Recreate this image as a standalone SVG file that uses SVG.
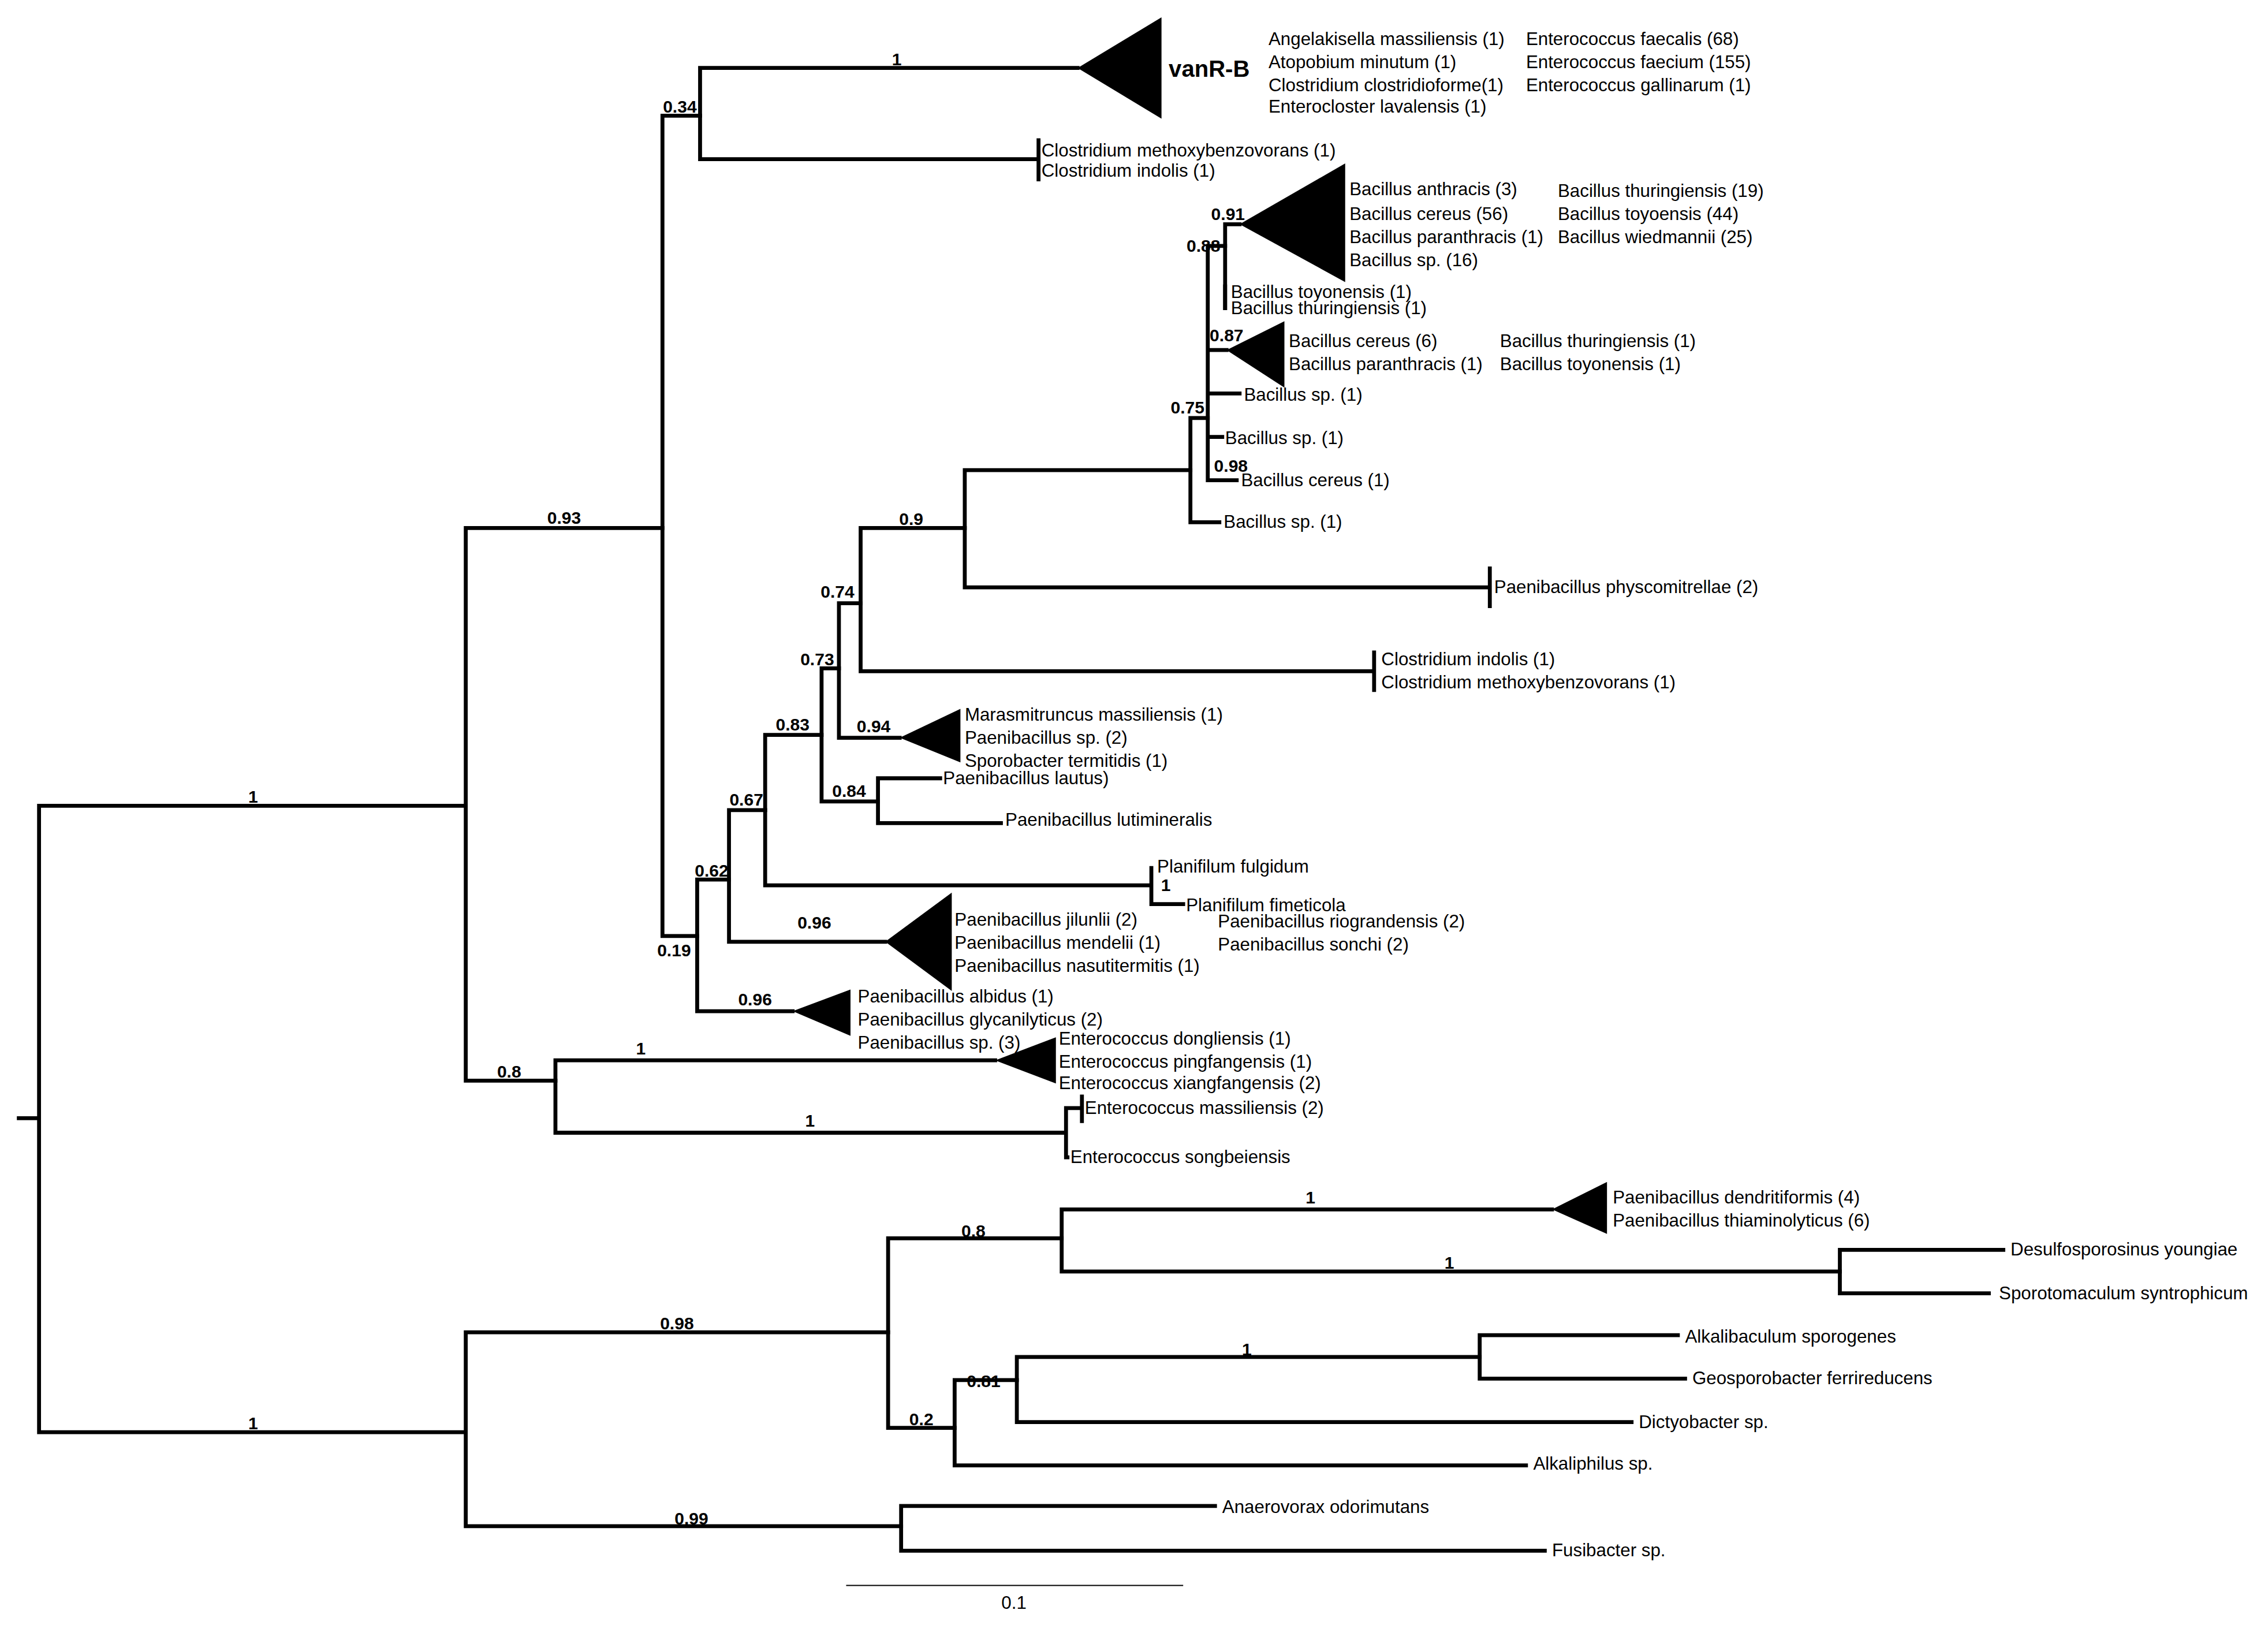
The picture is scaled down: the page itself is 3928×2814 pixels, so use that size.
<svg xmlns="http://www.w3.org/2000/svg" width="3928" height="2814" viewBox="0 0 3928 2814">
<style>
.b{fill:none;stroke:#000;stroke-width:2.7;stroke-linecap:square}
.t{font-family:"Liberation Sans",Arial,sans-serif;font-size:12.5px;fill:#000}
.s{font-family:"Liberation Sans",Arial,sans-serif;font-size:12px;font-weight:bold;fill:#000}
.c{fill:#000}
</style>
<rect width="3928" height="2814" fill="#fff"/>
<g transform="scale(2.5051)">
<g id="connectors">
<path class="b" d="M13 773H27M27 557V990M27 557H322M27 990H322"/>
<path class="b" d="M322 365V747M322 365H458M322 747H384"/>
<path class="b" d="M458 80V647M458 80H484M458 647H482"/>
<path class="b" d="M484 47V110M484 47H745M484 110H718M718 97V124"/>
<path class="b" d="M482 608V699M482 608H504M482 699H548"/>
<path class="b" d="M504 560V651M504 560H529M504 651H612"/>
<path class="b" d="M529 508V612M529 508H568M529 612H796M796 600V625M796 625H818"/>
<path class="b" d="M568 462V554M568 462H580M568 554H607"/>
<path class="b" d="M607 538V569M607 538H650M607 569H692"/>
<path class="b" d="M580 417V510M580 417H595M580 510H622"/>
<path class="b" d="M595 365V464M595 365H667M595 464H950M950 451V477"/>
<path class="b" d="M667 325V406M667 325H823M667 406H1030M1030 393V419"/>
<path class="b" d="M823 289V361M823 289H835M823 361H843"/>
<path class="b" d="M835 170V332M835 170H847M835 242H848M835 272H857M835 302H845M835 332H855"/>
<path class="b" d="M847 155V213M847 155H857"/>
<path class="b" d="M384 733V783M384 733H688M384 783H737M737 766V800M737 766H748M748 758V775M737 800H738"/>
<path class="b" d="M322 921V1055M322 921H614M322 1055H623"/>
<path class="b" d="M614 856V987M614 856H734M614 987H660"/>
<path class="b" d="M734 836V879M734 836H1073M734 879H1272"/>
<path class="b" d="M1272 864V894M1272 864H1385M1272 894H1375"/>
<path class="b" d="M660 954V1013M660 954H703M660 1013H1055"/>
<path class="b" d="M703 938V983M703 938H1023M703 983H1128"/>
<path class="b" d="M1023 923V953M1023 923H1160M1023 953H1165"/>
<path class="b" d="M623 1041V1072M623 1041H840M623 1072H1068"/>
<path d="M585 1096H818" stroke="#000" stroke-width="0.8"/>
</g>
<g id="support">
<text class="s" x="175" y="555" text-anchor="middle">1</text>
<text class="s" x="175" y="988" text-anchor="middle">1</text>
<text class="s" x="390" y="362" text-anchor="middle">0.93</text>
<text class="s" x="352" y="745" text-anchor="middle">0.8</text>
<text class="s" x="470" y="78" text-anchor="middle">0.34</text>
<text class="s" x="466" y="661" text-anchor="middle">0.19</text>
<text class="s" x="620" y="45" text-anchor="middle">1</text>
<text class="s" x="492" y="606" text-anchor="middle">0.62</text>
<text class="s" x="522" y="695" text-anchor="middle">0.96</text>
<text class="s" x="516" y="557" text-anchor="middle">0.67</text>
<text class="s" x="563" y="642" text-anchor="middle">0.96</text>
<text class="s" x="548" y="505" text-anchor="middle">0.83</text>
<text class="s" x="806" y="616" text-anchor="middle">1</text>
<text class="s" x="565" y="460" text-anchor="middle">0.73</text>
<text class="s" x="587" y="551" text-anchor="middle">0.84</text>
<text class="s" x="579" y="413" text-anchor="middle">0.74</text>
<text class="s" x="604" y="506" text-anchor="middle">0.94</text>
<text class="s" x="630" y="363" text-anchor="middle">0.9</text>
<text class="s" x="821" y="286" text-anchor="middle">0.75</text>
<text class="s" x="832" y="174" text-anchor="middle">0.88</text>
<text class="s" x="849" y="152" text-anchor="middle">0.91</text>
<text class="s" x="848" y="236" text-anchor="middle">0.87</text>
<text class="s" x="851" y="326" text-anchor="middle">0.98</text>
<text class="s" x="443" y="729" text-anchor="middle">1</text>
<text class="s" x="560" y="779" text-anchor="middle">1</text>
<text class="s" x="468" y="919" text-anchor="middle">0.98</text>
<text class="s" x="478" y="1054" text-anchor="middle">0.99</text>
<text class="s" x="673" y="855" text-anchor="middle">0.8</text>
<text class="s" x="637" y="985" text-anchor="middle">0.2</text>
<text class="s" x="906" y="832" text-anchor="middle">1</text>
<text class="s" x="1002" y="877" text-anchor="middle">1</text>
<text class="s" x="680" y="959" text-anchor="middle">0.81</text>
<text class="s" x="862" y="937" text-anchor="middle">1</text>
<text class="t" x="701" y="1112" text-anchor="middle">0.1</text>
</g>
<g id="vanRB">
<path class="c" d="M745 47L803 12V82Z"/>
<text x="808" y="53" style="font-family:'Liberation Sans',Arial,sans-serif;font-size:16px;font-weight:bold">vanR-B</text>
<text class="t" x="877" y="31">Angelakisella massiliensis (1)</text>
<text class="t" x="877" y="47">Atopobium minutum (1)</text>
<text class="t" x="877" y="63">Clostridium clostridioforme(1)</text>
<text class="t" x="877" y="78">Enterocloster lavalensis (1)</text>
<text class="t" x="1055" y="31">Enterococcus faecalis (68)</text>
<text class="t" x="1055" y="47">Enterococcus faecium (155)</text>
<text class="t" x="1055" y="63">Enterococcus gallinarum (1)</text>
</g>
<g id="clostridium1">
<text class="t" x="720" y="108">Clostridium methoxybenzovorans (1)</text>
<text class="t" x="720" y="122">Clostridium indolis (1)</text>
</g>
<g id="bacillus1">
<path class="c" d="M857 155L930 113V195Z"/>
<text class="t" x="933" y="135">Bacillus anthracis (3)</text>
<text class="t" x="933" y="152">Bacillus cereus (56)</text>
<text class="t" x="933" y="168">Bacillus paranthracis (1)</text>
<text class="t" x="933" y="184">Bacillus sp. (16)</text>
<text class="t" x="1077" y="136">Bacillus thuringiensis (19)</text>
<text class="t" x="1077" y="152">Bacillus toyoensis (44)</text>
<text class="t" x="1077" y="168">Bacillus wiedmannii (25)</text>
</g>
<g id="bacillus2">
<path class="b" d="M847 198V213"/>
<text class="t" x="851" y="206">Bacillus toyonensis (1)</text>
<text class="t" x="851" y="217">Bacillus thuringiensis (1)</text>
</g>
<g id="bacillus3">
<path class="c" d="M848 242L888 222V268Z"/>
<text class="t" x="891" y="240">Bacillus cereus (6)</text>
<text class="t" x="891" y="256">Bacillus paranthracis (1)</text>
<text class="t" x="1037" y="240">Bacillus thuringiensis (1)</text>
<text class="t" x="1037" y="256">Bacillus toyonensis (1)</text>
</g>
<g id="bacillus4"><text class="t" x="860" y="277">Bacillus sp. (1)</text></g>
<g id="bacillus5"><text class="t" x="847" y="307">Bacillus sp. (1)</text></g>
<g id="bacillus6"><text class="t" x="858" y="336">Bacillus cereus (1)</text></g>
<g id="bacillus7"><text class="t" x="846" y="365">Bacillus sp. (1)</text></g>
<g id="paeni1"><text class="t" x="1033" y="410">Paenibacillus physcomitrellae (2)</text></g>
<g id="clostridium2">
<text class="t" x="955" y="460">Clostridium indolis (1)</text>
<text class="t" x="955" y="476">Clostridium methoxybenzovorans (1)</text>
</g>
<g id="marasmi">
<path class="c" d="M622 510L664 490V527Z"/>
<text class="t" x="667" y="498">Marasmitruncus massiliensis (1)</text>
<text class="t" x="667" y="514">Paenibacillus sp. (2)</text>
<text class="t" x="667" y="530">Sporobacter termitidis (1)</text>
</g>
<g id="lautus"><text class="t" x="652" y="542">Paenibacillus lautus)</text></g>
<g id="lutimin"><text class="t" x="695" y="571">Paenibacillus lutimineralis</text></g>
<g id="planifilum">
<text class="t" x="800" y="603">Planifilum fulgidum</text>
<text class="t" x="820" y="630">Planifilum fimeticola</text>
</g>
<g id="paeni2">
<path class="c" d="M612 651L658 617V685Z"/>
<text class="t" x="660" y="640">Paenibacillus jilunlii (2)</text>
<text class="t" x="660" y="656">Paenibacillus mendelii (1)</text>
<text class="t" x="660" y="672">Paenibacillus nasutitermitis (1)</text>
<text class="t" x="842" y="641">Paenibacillus riograndensis (2)</text>
<text class="t" x="842" y="657">Paenibacillus sonchi (2)</text>
</g>
<g id="paeni3">
<path class="c" d="M548 699L588 684V716Z"/>
<text class="t" x="593" y="693">Paenibacillus albidus (1)</text>
<text class="t" x="593" y="709">Paenibacillus glycanilyticus (2)</text>
<text class="t" x="593" y="725">Paenibacillus sp. (3)</text>
</g>
<g id="entero1">
<path class="c" d="M688 733L730 717V749Z"/>
<text class="t" x="732" y="722">Enterococcus dongliensis (1)</text>
<text class="t" x="732" y="738">Enterococcus pingfangensis (1)</text>
<text class="t" x="732" y="753">Enterococcus xiangfangensis (2)</text>
</g>
<g id="entero2"><text class="t" x="750" y="770">Enterococcus massiliensis (2)</text></g>
<g id="entero3"><text class="t" x="740" y="804">Enterococcus songbeiensis</text></g>
<g id="paeni4">
<path class="c" d="M1073 836L1111 817V853Z"/>
<text class="t" x="1115" y="832">Paenibacillus dendritiformis (4)</text>
<text class="t" x="1115" y="848">Paenibacillus thiaminolyticus (6)</text>
</g>
<g id="desulfo"><text class="t" x="1390" y="868">Desulfosporosinus youngiae</text></g>
<g id="sporoto"><text class="t" x="1382" y="898">Sporotomaculum syntrophicum</text></g>
<g id="alkalib"><text class="t" x="1165" y="928">Alkalibaculum sporogenes</text></g>
<g id="geospo"><text class="t" x="1170" y="957">Geosporobacter ferrireducens</text></g>
<g id="dictyo"><text class="t" x="1133" y="987">Dictyobacter sp.</text></g>
<g id="alkaliph"><text class="t" x="1060" y="1016">Alkaliphilus sp.</text></g>
<g id="anaero"><text class="t" x="845" y="1046">Anaerovorax odorimutans</text></g>
<g id="fusib"><text class="t" x="1073" y="1076">Fusibacter sp.</text></g>
</g>
</svg>
